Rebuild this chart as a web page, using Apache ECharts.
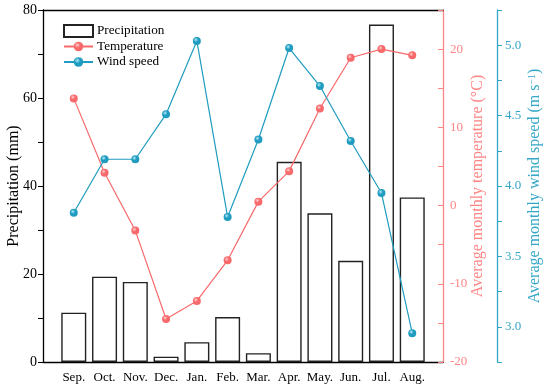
<!DOCTYPE html>
<html>
<head>
<meta charset="utf-8">
<script src="https://cdn.jsdelivr.net/npm/echarts@6/dist/echarts.min.js"></script>
<style>html,body{margin:0;padding:0;background:#fff}#c{width:550px;height:387px}</style>
</head>
<body>
<div id="c"></div>
<script>
const months = ['Sep.','Oct.','Nov.','Dec.','Jan.','Feb.','Mar.','Apr.','May.','Jun.','Jul.','Aug.'];
const precipitation = [11.2, 19.4, 18.2, 1.2, 4.5, 10.2, 2.0, 45.5, 33.8, 23.0, 76.7, 37.4];
const temperature = [13.7, 4.2, -3.2, -14.5, -12.2, -7.0, 0.5, 4.4, 12.4, 18.9, 20.0, 19.2];
const windSpeed = [3.81, 4.19, 4.19, 4.51, 5.03, 3.78, 4.33, 4.98, 4.71, 4.32, 3.95, 2.955];

const FONT = 'Liberation Serif';
const RED = '#f8696b';
const RED_T = '#ff8585';
const BLUE = '#1f9cbf';
const BLUE_T = '#35a7c6';

function sphere(c, hi) {
  return {type:'radial', x:0.38, y:0.35, r:0.65, colorStops:[{offset:0,color:hi},{offset:0.45,color:c},{offset:1,color:c}]};
}

const chart = echarts.init(document.getElementById('c'), null, {renderer:'canvas'});
chart.setOption({
  animation:false,
  backgroundColor:'#fff',
  textStyle:{fontFamily:FONT},
  grid:{left:43, right:107, top:10, bottom:25, containLabel:false, outerBoundsMode:'none'},
  legend:{
    left:63, top:24, padding:0, orient:'vertical', itemWidth:29, itemHeight:12, itemGap:1.5,
    textStyle:{fontFamily:FONT, fontSize:13.2, lineHeight:14, color:'#000', padding:[0,0,0,-1]},
    data:[{name:'Precipitation', icon:'rect'},'Temperature','Wind speed']
  },
  xAxis:[{
    type:'value', min:-1, max:12, interval:1,
    axisLine:{show:true, onZero:false, lineStyle:{color:'#000', width:1.3}},
    axisTick:{show:false}, splitLine:{show:false},
    axisLabel:{fontFamily:FONT, fontSize:13, color:'#000', margin:9,
      formatter:function(v){const i=Math.round(v); return (i>=0 && i<months.length)? months[i] : '';}}
  },{
    type:'value', position:'top', min:-1, max:12,
    axisLine:{show:true, onZero:false, lineStyle:{color:'#000', width:1.3}},
    axisTick:{show:false}, axisLabel:{show:false}, splitLine:{show:false}
  }],
  yAxis:[{
    type:'value', min:0, max:80, interval:10, position:'left',
    name:'Precipitation (mm)', nameLocation:'middle', nameGap:21, nameRotate:90, nameMoveOverlap:false,
    nameTextStyle:{fontFamily:FONT, fontSize:16, color:'#000'},
    axisLine:{show:true, onZero:false, lineStyle:{color:'#000', width:1.3}},
    axisTick:{show:true, length:5, lineStyle:{color:'#000'}},
    splitLine:{show:false},
    axisLabel:{fontFamily:FONT, fontSize:14, color:'#000', margin:6,
      formatter:function(v){return Math.round(v)%20===0? String(Math.round(v)) : '';}}
  },{
    type:'value', min:-20, max:25, interval:5, position:'right', offset:0,
    name:'Average monthly temperature (\u00b0C)', nameLocation:'middle', nameGap:27, nameRotate:90, nameMoveOverlap:false,
    nameTextStyle:{fontFamily:FONT, fontSize:16, color:RED_T},
    axisLine:{show:true, onZero:false, lineStyle:{color:RED_T, width:1.3}},
    axisTick:{show:true, inside:true, length:5, lineStyle:{color:RED_T}},
    splitLine:{show:false},
    axisLabel:{fontFamily:FONT, fontSize:13, color:RED_T, margin:7,
      formatter:function(v){const r=Math.round(v); return (r%10===0 && r<25)? String(r) : '';}}
  },{
    type:'value', min:2.75, max:5.25, interval:0.25, position:'right', offset:54,
    name:'{a|Average monthly wind speed (m s}{s|\u22121}{a|)}', nameLocation:'middle', nameGap:30, nameRotate:90, nameMoveOverlap:false,
    nameTextStyle:{fontFamily:FONT, fontSize:16, color:BLUE_T,
      rich:{a:{fontFamily:FONT, fontSize:16, color:BLUE_T}, s:{fontFamily:FONT, fontSize:10, color:BLUE_T, verticalAlign:'top', lineHeight:10, padding:[0,0,8,0]}}},
    axisLine:{show:true, onZero:false, lineStyle:{color:BLUE_T, width:1.3}},
    axisTick:{show:true, inside:false, length:5, lineStyle:{color:BLUE_T}},
    splitLine:{show:false},
    axisLabel:{fontFamily:FONT, fontSize:13, color:BLUE_T, margin:8,
      formatter:function(v){const d=v*2; return (Math.abs(d-Math.round(d))<1e-6 && v>2.9 && v<5.1)? v.toFixed(1) : '';}}
  }],
  series:[{
    name:'Precipitation', type:'bar', xAxisIndex:0, yAxisIndex:0, barWidth:25,
    itemStyle:{color:'#fff', borderColor:'#222', borderWidth:1.4},
    data: precipitation.map(function(v,i){return [i,v];})
  },{
    name:'Temperature', type:'line', xAxisIndex:0, yAxisIndex:1,
    symbol:'circle', symbolSize:8,
    lineStyle:{color:RED, width:1.2},
    itemStyle:{color:sphere(RED,'#ffd0d0'), borderWidth:0},
    data: temperature.map(function(v,i){return [i,v];})
  },{
    name:'Wind speed', type:'line', xAxisIndex:0, yAxisIndex:2,
    symbol:'circle', symbolSize:8,
    lineStyle:{color:BLUE, width:1.2},
    itemStyle:{color:sphere(BLUE,'#b8ecfa'), borderWidth:0},
    data: windSpeed.map(function(v,i){return [i,v];})
  }]
});
</script>
</body>
</html>
